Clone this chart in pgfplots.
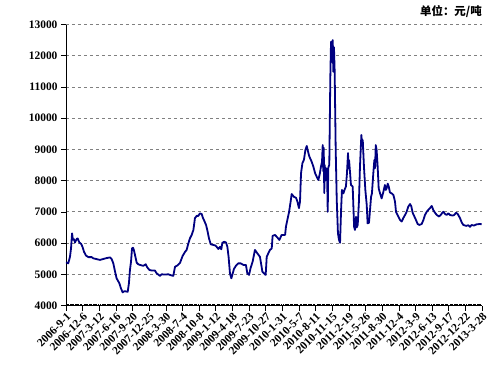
\documentclass[border=0pt]{standalone}
\usepackage{fontspec}
\setmainfont{Liberation Serif}
\newfontfamily\cjk{Noto Sans CJK SC}
\usepackage{pgfplots}
\pgfplotsset{compat=1.18}
\definecolor{navyline}{RGB}{0,0,128}
\begin{document}
\begin{tikzpicture}
\useasboundingbox (-66bp,-65.5bp) rectangle (425bp,305.5bp);
\begin{axis}[
  scale only axis, width=416bp, height=281bp,
  xmin=0, xmax=2400, ymin=4000, ymax=13000,
  axis x line*=bottom, axis y line*=left,
  axis line style={black, line width=0.8bp},
  xtick={0,96,...,2400},
  xticklabels={2006-9-1,2006-12-6,2007-3-12,2007-6-16,2007-9-20,2007-12-25,2008-3-30,2008-7-4,2008-10-8,2009-1-12,2009-4-18,2009-7-23,2009-10-27,2010-1-31,2010-5-7,2010-8-11,2010-11-15,2011-2-19,2011-5-26,2011-8-30,2011-12-4,2012-3-9,2012-6-13,2012-9-17,2012-12-22,2013-3-28},
  ytick={4000,5000,...,13000},
  scaled y ticks=false,
  ymajorgrids, grid style={dash pattern=on 3bp off 3bp, gray, line width=0.8bp},
  tick align=outside, major tick length=5bp,
  minor x tick num=12, minor tick length=2bp,
  minor x tick style={yshift=2bp},
  tick style={black, line width=0.6bp},
  tick label style={font=\bfseries\fontsize{11.5}{12}\selectfont},
  xticklabel style={rotate=45, anchor=north east, inner sep=1bp},
  /pgf/number format/1000 sep={}, /pgf/number format/assume math mode=true,
  clip mode=individual,
]
\addplot[navyline, line width=1.8bp, line join=round] coordinates {
(0,5380) (13,5350) (23,5560) (29,5830) (35,6310) (40,6100) (46,6120) (52,6020) (62,6130) (67,6150)
(77,6020) (88,5970) (96,5865) (104,5720) (115,5600) (129,5550) (148,5550) (158,5510) (173,5490) (196,5460)
(215,5490) (235,5520) (254,5540) (263,5490) (273,5350) (283,5085) (292,4870) (308,4710) (317,4550) (327,4420)
(337,4460) (346,4450) (356,4440) (363,4710) (369,5140) (375,5400) (381,5830) (387,5850) (392,5770) (398,5620)
(408,5370) (417,5320) (427,5300) (446,5270) (460,5320) (469,5220) (481,5140) (494,5120) (513,5120) (523,5030)
(542,4950) (552,5000) (571,4990) (590,5000) (610,4960) (619,4950) (629,5240) (642,5280) (658,5370) (673,5590)
(687,5720) (696,5780) (706,5990) (715,6150) (725,6260) (735,6420) (744,6800) (754,6870) (763,6870) (773,6950)
(783,6930) (789,6820) (798,6710) (808,6580) (815,6420) (825,6150) (835,5960) (850,5940) (863,5920) (879,5810)
(888,5880) (896,5800) (902,6010) (912,6040) (923,6020) (931,5880) (938,5560) (946,5030) (954,4870) (962,5030)
(969,5170) (981,5280) (994,5350) (1008,5350) (1023,5300) (1038,5300) (1046,5030) (1056,4980) (1065,5200) (1077,5410)
(1090,5780) (1104,5670) (1119,5560) (1133,5085) (1142,5030) (1152,4980) (1158,5560) (1167,5670) (1177,5780) (1187,5830)
(1192,6230) (1206,6260) (1219,6180) (1231,6100) (1244,6260) (1264,6260) (1269,6525) (1277,6740) (1287,7000) (1296,7330)
(1302,7570) (1315,7480) (1327,7450) (1335,7330) (1344,7120) (1350,7330) (1356,8240) (1364,8560) (1373,8670) (1381,8980)
(1389,9110) (1394,8980) (1404,8770) (1417,8610) (1427,8450) (1437,8240) (1446,8130) (1456,8020) (1465,8240) (1471,8450)
(1477,8600) (1481,9140) (1484,8300) (1487,9050) (1490,7600) (1493,8500) (1496,8000) (1500,8400) (1504,8340) (1507,8000)
(1510,7000) (1513,8400) (1515,8450) (1519,8500) (1525,11330) (1529,12450) (1532,11800) (1535,12400) (1539,12500) (1542,11490)
(1546,12270) (1550,11500) (1556,8980) (1562,7380) (1569,6310) (1575,6100) (1581,6010) (1587,7060) (1592,7700) (1600,7590)
(1610,7750) (1615,7810) (1621,8240) (1627,8880) (1630,8400) (1633,8660) (1639,8240) (1644,7860) (1654,7810) (1662,6525)
(1667,6420) (1673,6840) (1677,6500) (1683,6580) (1690,7330) (1696,8450) (1704,9460) (1708,9200) (1712,9300) (1719,8450)
(1727,7700) (1735,7220) (1740,6630) (1748,6650) (1754,7060) (1760,7480) (1765,7590) (1773,8240) (1779,8660) (1783,8400)
(1787,9140) (1792,8980) (1798,8450) (1804,7750) (1812,7590) (1821,7430) (1831,7640) (1840,7860) (1845,7700) (1850,7750)
(1856,7900) (1862,7810) (1869,7620) (1879,7590) (1889,7540) (1898,7330) (1904,7000) (1917,6850) (1927,6740) (1937,6690)
(1946,6800) (1956,6900) (1965,7000) (1975,7170) (1985,7250) (1992,7180) (2000,6970) (2010,6850) (2019,6740) (2029,6610)
(2038,6580) (2052,6610) (2062,6740) (2071,6900) (2081,7000) (2090,7060) (2100,7120) (2110,7190) (2119,7060) (2129,6970)
(2139,6900) (2152,6850) (2162,6900) (2171,6970) (2177,7000) (2187,6930) (2196,6900) (2206,6950) (2215,6900) (2231,6880)
(2240,6900) (2250,6970) (2260,6930) (2273,6800) (2283,6660) (2292,6580) (2308,6550) (2321,6570) (2331,6520) (2340,6580)
(2354,6560) (2369,6600) (2388,6610) (2398,6600)
};
\node[anchor=south east, inner sep=0pt, font=\cjk\bfseries\fontsize{11.5}{12}\selectfont] at (rel axis cs:1,1) [yshift=7bp] {单位：元/吨};
\end{axis}
\end{tikzpicture}
\end{document}
